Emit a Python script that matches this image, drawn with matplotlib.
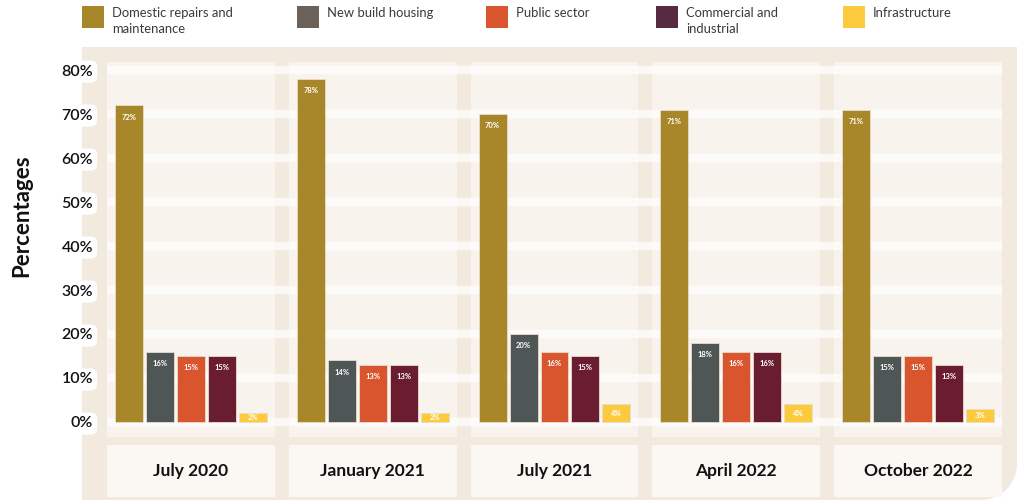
import numpy as np
import matplotlib.pyplot as plt
from matplotlib.patches import Rectangle, Circle
from matplotlib.transforms import blended_transform_factory

plt.rcParams['font.family'] = ['Lato', 'DejaVu Sans']

# survey waves and the share of work in each sector (%)
periods = ["July 2020", "January 2021", "July 2021", "April 2022", "October 2022"]
sectors = ["Domestic repairs and\nmaintenance", "New build housing", "Public sector",
           "Commercial and\nindustrial", "Infrastructure"]
domestic = [72, 78, 70, 71, 71]
new_build = [16, 14, 20, 18, 15]
public = [15, 13, 16, 16, 15]
commercial = [15, 13, 15, 16, 13]
infrastructure = [2, 2, 4, 4, 3]
yticks = [0, 10, 20, 30, 40, 50, 60, 70, 80]

series = [domestic, new_build, public, commercial, infrastructure]
bar_colors = ["#a8872a", "#4e5756", "#d9552e", "#6a1d31", "#fdc93d"]
key_colors = ["#a8872a", "#6b6158", "#d9552e", "#572a41", "#fdc93d"]

W, H = 1017, 503
fig = plt.figure(figsize=(W / 100, H / 100), dpi=100)
fig.patch.set_facecolor("white")

# pixel-space layer for the panel and the key
bg = fig.add_axes([0, 0, 1, 1])
bg.set_xlim(0, W)
bg.set_ylim(H, 0)
bg.axis("off")

panel = "#f3eadf"
r = 36
bg.add_patch(Rectangle((82, 47), W - 82, 500 - 47 - r, color=panel, lw=0))
bg.add_patch(Rectangle((82, 47), W - 82 - r, 500 - 47, color=panel, lw=0))
bg.add_patch(Circle((W - r, 500 - r), r, color=panel, lw=0))

key_x = [82, 297, 486, 656, 843]
for x0, name, c in zip(key_x, sectors, key_colors):
    bg.add_patch(Rectangle((x0, 6), 22, 22, color=c, lw=0))
    bg.text(x0 + 30, 7, name, ha="left", va="top", fontsize=9.4,
            color="#3a3a3a", linespacing=1.4)

bg.text(22, 216, "Percentages", rotation=90, ha="center", va="center",
        fontsize=16, fontweight="bold", color="#111111")

# main chart
ax = fig.add_axes([107 / W, (H - 437) / H, 895 / W, 375 / H])
ax.patch.set_alpha(0)
half = 0.4615
ax.set_xlim(-half, len(periods) - 1 + half)
ax.set_ylim(-3.41, 81.82)
for s in ax.spines.values():
    s.set_visible(False)

mix = blended_transform_factory(ax.transData, ax.transAxes)
x = np.arange(len(periods))
for xi, name in zip(x, periods):
    ax.add_patch(Rectangle((xi - half, 0), 2 * half, 1, transform=mix,
                           color="#f8f3ed", lw=0, zorder=0))
    ax.add_patch(Rectangle((xi - half, -0.16), 2 * half, 0.139, transform=mix,
                           color="#fbf8f4", lw=0, zorder=0, clip_on=False))
    ax.text(xi, -0.09, name, transform=mix, ha="center", va="center",
            fontsize=12.5, fontweight="bold", color="#111111")

for t in yticks:
    ax.axhline(t, color="white", lw=6, alpha=0.7, zorder=1)

step = 0.1705
width = 0.154
for k, (vals, c) in enumerate(zip(series, bar_colors)):
    xs = x + (k - 2) * step
    ax.bar(xs, vals, width=width, color=c, edgecolor="#eadccb", lw=0.6, zorder=3)
    for xv, v in zip(xs, vals):
        if v < 5:
            # short bars: centre the value inside the bar
            ax.text(xv, v / 2, f"{v}%", ha="center", va="center", fontsize=5.5,
                    fontweight="bold", color="white", zorder=4)
        else:
            ax.annotate(f"{v}%", (xv, v), xytext=(0, -6), textcoords="offset points",
                        ha="center", va="top", fontsize=5.5, fontweight="bold",
                        color="white", zorder=4)

ax.set_xticks([])
ax.set_yticks(yticks)
ax.set_yticklabels([f"{t}%" for t in yticks], fontsize=11.5, fontweight="semibold",
                   color="#111111")
ax.tick_params(axis="y", length=0, pad=10)
for lbl in ax.get_yticklabels():
    lbl.set_bbox(dict(boxstyle="round,pad=0.25,rounding_size=0.4", fc="white", ec="none"))

fig.savefig("out.png", dpi=100)
